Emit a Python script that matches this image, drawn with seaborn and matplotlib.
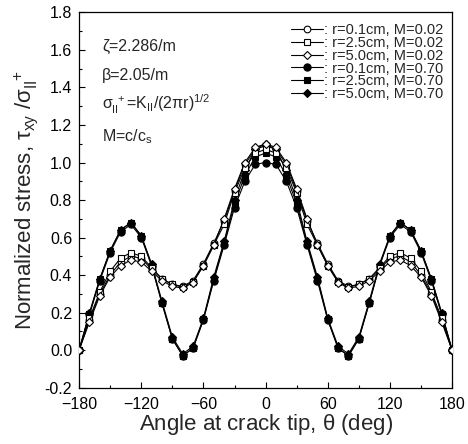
import numpy as np
import pandas as pd
import matplotlib
matplotlib.use("Agg")
import matplotlib.pyplot as plt
import seaborn as sns
from matplotlib.ticker import MultipleLocator, FormatStrFormatter
from matplotlib.lines import Line2D

angles = list(range(-180, 181, 10))

open_r01 = [0.00, 0.16, 0.30, 0.40, 0.47, 0.50, 0.49, 0.43, 0.38, 0.35, 0.34, 0.37, 0.46, 0.57, 0.69, 0.85, 0.99, 1.07, 1.09,
            1.07, 0.99, 0.85, 0.69, 0.57, 0.46, 0.37, 0.34, 0.35, 0.38, 0.43, 0.49, 0.50, 0.47, 0.40, 0.30, 0.16, 0.00]
open_r25 = [0.00, 0.17, 0.31, 0.42, 0.49, 0.52, 0.50, 0.44, 0.38, 0.35, 0.335, 0.365, 0.45, 0.56, 0.67, 0.84, 0.97, 1.05, 1.07,
            1.05, 0.97, 0.84, 0.67, 0.56, 0.45, 0.365, 0.335, 0.35, 0.38, 0.44, 0.50, 0.52, 0.49, 0.42, 0.31, 0.17, 0.00]
open_r50 = [0.00, 0.15, 0.29, 0.39, 0.45, 0.48, 0.47, 0.42, 0.37, 0.34, 0.33, 0.36, 0.45, 0.56, 0.70, 0.86, 1.00, 1.08, 1.10,
            1.08, 1.00, 0.86, 0.70, 0.56, 0.45, 0.36, 0.33, 0.34, 0.37, 0.42, 0.47, 0.48, 0.45, 0.39, 0.29, 0.15, 0.00]
fill_r01 = [0.00, 0.19, 0.37, 0.52, 0.63, 0.67, 0.60, 0.45, 0.25, 0.06, -0.03, 0.01, 0.16, 0.37, 0.56, 0.76, 0.90, 0.99, 1.00,
            0.99, 0.90, 0.76, 0.56, 0.37, 0.16, 0.01, -0.03, 0.06, 0.25, 0.45, 0.60, 0.67, 0.63, 0.52, 0.37, 0.19, 0.00]
fill_r25 = [0.00, 0.19, 0.38, 0.53, 0.64, 0.68, 0.61, 0.45, 0.25, 0.06, -0.03, 0.01, 0.165, 0.38, 0.57, 0.78, 0.93, 1.03, 1.05,
            1.03, 0.93, 0.78, 0.57, 0.38, 0.165, 0.01, -0.03, 0.06, 0.25, 0.45, 0.61, 0.68, 0.64, 0.53, 0.38, 0.19, 0.00]
fill_r50 = [0.00, 0.20, 0.38, 0.53, 0.64, 0.68, 0.61, 0.46, 0.26, 0.07, -0.02, 0.02, 0.17, 0.39, 0.58, 0.80, 0.96, 1.07, 1.10,
            1.07, 0.96, 0.80, 0.58, 0.39, 0.17, 0.02, -0.02, 0.07, 0.26, 0.46, 0.61, 0.68, 0.64, 0.53, 0.38, 0.20, 0.00]

labels = [": r=0.1cm, M=0.02", ": r=2.5cm, M=0.02", ": r=5.0cm, M=0.02",
          ": r=0.1cm, M=0.70", ": r=2.5cm, M=0.70", ": r=5.0cm, M=0.70"]
series = [open_r01, open_r25, open_r50, fill_r01, fill_r25, fill_r50]
markers = ["o", "s", "D", "o", "s", "D"]
msizes = [4.8, 4.4, 3.8, 5.2, 4.8, 4.2]
faces = ["white", "white", "white", "black", "black", "black"]

sns.set_style("ticks")
plt.rcParams['font.family'] = ['Liberation Sans', 'DejaVu Sans']
plt.rcParams['mathtext.fontset'] = 'custom'
plt.rcParams['mathtext.rm'] = 'Liberation Sans'
plt.rcParams['mathtext.it'] = 'Liberation Sans'
plt.rcParams['mathtext.bf'] = 'Liberation Sans:bold'

fig = plt.figure(figsize=(4.68, 4.44), dpi=100)
ax = fig.add_axes([0.169, 0.127, 0.797, 0.845])

df = pd.DataFrame({
    "angle": angles * len(series),
    "value": sum(series, []),
    "label": sum([[l] * len(angles) for l in labels], []),
})

handles = []
for lab, mk, ms, fc in zip(labels, markers, msizes, faces):
    sub = df[df["label"] == lab]
    sns.lineplot(data=sub, x="angle", y="value", ax=ax, color="black", lw=0.8,
                 marker=mk, markersize=ms, markerfacecolor=fc, markeredgecolor="black",
                 markeredgewidth=0.8, legend=False, zorder=3 if fc == "black" else 4)
    handles.append(Line2D([0], [0], color="black", lw=0.8, marker=mk, markersize=ms,
                          markerfacecolor=fc, markeredgecolor="black", markeredgewidth=0.8))

ax.set_xlim(-180, 180)
ax.set_ylim(-0.2, 1.8)
ax.xaxis.set_major_locator(MultipleLocator(60))
ax.xaxis.set_minor_locator(MultipleLocator(30))
ax.yaxis.set_major_locator(MultipleLocator(0.2))
ax.yaxis.set_minor_locator(MultipleLocator(0.1))
ax.yaxis.set_major_formatter(FormatStrFormatter('%.1f'))
ax.tick_params(which='both', direction='in', top=False, right=False, labelsize=11.5, colors='black')
ax.tick_params(which='major', length=4, width=0.8)
ax.tick_params(which='minor', length=2.5, width=0.8)
ax.tick_params(axis='x', pad=7)
ax.tick_params(axis='y', pad=5)
for s in ax.spines.values():
    s.set_visible(True)
    s.set_color('black')
    s.set_linewidth(0.9)

ax.set_xlabel(r"Angle at crack tip, $\theta$ (deg)", fontsize=16, labelpad=0)
ax.set_ylabel(r"Normalized stress, $\tau_{xy}$ /$\sigma_{II}^{\ +}$", fontsize=16, labelpad=3)

tx = -158
ax.text(tx, 1.62, "ζ=2.286/m", fontsize=11.5, va='center')
ax.text(tx, 1.465, "β=2.05/m", fontsize=11.5, va='center')
ax.text(tx, 1.31, r"$\sigma_{II}^{\ +}$=K$_{II}$/(2$\pi$r)$^{1/2}$", fontsize=11.5, va='center')
ax.text(tx, 1.14, r"M=c/c$_{s}$", fontsize=11.5, va='center')

leg = ax.legend(handles, labels, loc='upper right', bbox_to_anchor=(1.0, 0.995), frameon=False,
                fontsize=10.5, handlelength=2.2, handletextpad=0.1, labelspacing=-0.08,
                borderaxespad=0.2)

fig.savefig("out.png", dpi=100, facecolor="white")
